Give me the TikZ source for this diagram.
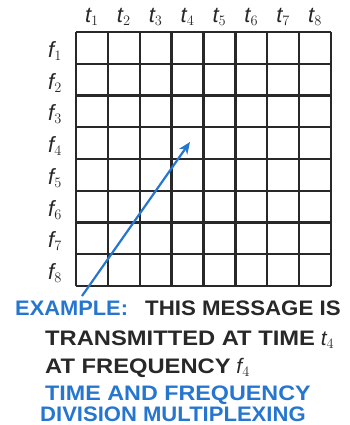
\documentclass[tikz,border=0pt]{standalone}
\usepackage{fontspec}
\setmainfont{Liberation Sans}
\usetikzlibrary{arrows.meta}
\definecolor{inkblue}{RGB}{38,118,208}
\definecolor{ink}{RGB}{40,40,40}
\newcommand{\widen}[2][1.13]{\scalebox{#1}[1]{#2}}
\tikzset{
  gridline/.style={draw=ink, line width=2.4pt},
  toplabel/.style={font=\fontsize{22}{24}\selectfont, text=ink, inner sep=0pt},
  caption/.style={font=\fontsize{21}{23}\selectfont\bfseries, text=ink, anchor=base west, inner sep=0pt},
  bluecap/.style={caption, text=inkblue},
  arrowline/.style={draw=inkblue, line width=2.2pt, -{Stealth[length=12pt,width=10pt]}}
}
\begin{document}
\begin{tikzpicture}[x=1pt,y=-1pt]
\useasboundingbox (0,0) rectangle (349,425);
% grid
\foreach \i in {0,...,8}{
  \draw[gridline] ({76+\i*31.875},32) -- ({76+\i*31.875},286);
  \draw[gridline] (76,{32+\i*31.75}) -- (331.0,{32+\i*31.75});
}
% time and frequency labels
\foreach \i in {1,...,8}{
  \node[toplabel] (t\i) at ({76+(\i-0.5)*31.875},17) {$\mathit{t}_{\i}$};
  \node[toplabel] (f\i) at (55,{32+(\i-0.5)*31.75+3}) {$\mathit{f}_{\i}$};
}
% arrow
\coordinate (as) at (82,296);
\coordinate (ae) at (190,142);
\draw[arrowline] (as) -- (ae);
% captions
\node[bluecap] (ex) at (15,315) {\widen[1.04]{EXAMPLE:}};
\node[caption] (l1) at (145,315) {\widen[1.06]{THIS MESSAGE IS}};
\node[caption] (l2) at (45,345) {\widen{TRANSMITTED AT TIME} $\mathit{t}_4$};
\node[caption] (l3) at (45,373) {\widen{AT FREQUENCY} $\mathit{f}_4$};
\node[bluecap] (l4) at (45,400) {\widen[1.11]{TIME AND FREQUENCY}};
\node[bluecap] (l5) at (40,421) {\widen[1.05]{DIVISION MULTIPLEXING}};
\end{tikzpicture}
\end{document}
